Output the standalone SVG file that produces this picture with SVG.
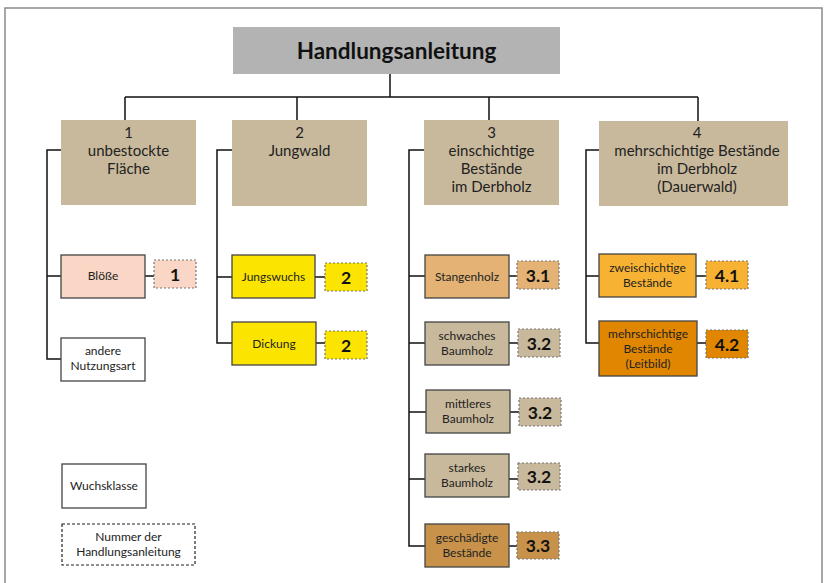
<svg xmlns="http://www.w3.org/2000/svg" width="824" height="583" viewBox="0 0 824 583">
<style>
text{font-family:Lato,"Open Sans","Liberation Sans",sans-serif;fill:#222;text-anchor:middle}
.hd{font-size:15px}
.sm{font-size:12px}
.num{font-size:17.5px;font-weight:bold;fill:#111}
.box{stroke:#444;stroke-width:1.3}
.nb{stroke:#777;stroke-width:1.2;stroke-dasharray:2,2}
.con{stroke:#111;stroke-width:1.5;fill:none}
.tan{fill:#c9b99c}
</style>
<rect x="0" y="0" width="824" height="583" fill="#fff"/>
<rect x="5" y="8" width="817" height="590" fill="none" stroke="#8a8a8a" stroke-width="1.5"/>
<g id="connectors">
<path class="con" d="M390 74V97M125 97H698M125 97V120M297 97V120M489 97V120M698 97V121"/>
<path class="con" d="M61 150H47V359H61M47 276H61M145 276H154"/>
<path class="con" d="M232 150H217V343H232M217 277H232M315 277H325M316 343H325"/>
<path class="con" d="M424 150H409V546H425M409 276H425M409 343H425M409 412H426M409 479H425M509 276H517M509 343H518M510 412H519M509 479H518M509 546H517"/>
<path class="con" d="M599 150H586V343H599M586 276H599M696 276H706M697 343H706"/>
</g>
<g id="title">
<rect x="233" y="27" width="327" height="47" fill="#b3b3b3"/>
<text x="396.5" y="59" style="font-size:22.5px;font-weight:bold;fill:#111">Handlungsanleitung</text>
</g>
<g id="k1">
<rect x="61" y="120" width="135" height="85" class="tan"/>
<text class="hd" x="128.5" y="138">1</text>
<text class="hd" x="128.5" y="156">unbestockte</text>
<text class="hd" x="128.5" y="174">Fläche</text>
</g>
<g id="k2">
<rect x="232" y="120" width="135" height="86" class="tan"/>
<text class="hd" x="299.5" y="138">2</text>
<text class="hd" x="299.5" y="156">Jungwald</text>
</g>
<g id="k3">
<rect x="424" y="120" width="135" height="85" class="tan"/>
<text class="hd" x="491.5" y="138">3</text>
<text class="hd" x="491.5" y="156">einschichtige</text>
<text class="hd" x="491.5" y="174">Bestände</text>
<text class="hd" x="491.5" y="192">im Derbholz</text>
</g>
<g id="k4">
<rect x="599" y="121" width="189" height="85" class="tan"/>
<text class="hd" x="697" y="138">4</text>
<text class="hd" x="697" y="156">mehrschichtige Bestände</text>
<text class="hd" x="697" y="174">im Derbholz</text>
<text class="hd" x="697" y="192">(Dauerwald)</text>
</g>
<g id="bloesse">
<rect x="61" y="255" width="84" height="43" fill="#f9d6c5" class="box"/>
<text class="sm" x="103" y="280">Blöße</text>
<rect x="154" y="260" width="42" height="28" fill="#f9d6c5" class="nb"/>
<text class="num" x="175" y="280.5">1</text>
</g>
<g id="andere">
<rect x="61" y="338" width="84" height="43" fill="#fff" class="box"/>
<text class="sm" x="103" y="355">andere</text>
<text class="sm" x="103" y="370">Nutzungsart</text>
</g>
<g id="jungwuchs">
<rect x="232" y="255" width="83" height="43" fill="#fbe500" class="box"/>
<text class="sm" x="273.5" y="281">Jungswuchs</text>
<rect x="325" y="263" width="42" height="28" fill="#fbe500" class="nb"/>
<text class="num" x="346" y="283.5">2</text>
</g>
<g id="dickung">
<rect x="232" y="322" width="84" height="43" fill="#fbe500" class="box"/>
<text class="sm" x="274" y="348">Dickung</text>
<rect x="325" y="331" width="42" height="28" fill="#fbe500" class="nb"/>
<text class="num" x="346" y="351.5">2</text>
</g>
<g id="stangenholz">
<rect x="425" y="255" width="84" height="43" fill="#e3b274" class="box"/>
<text class="sm" x="467" y="280.5">Stangenholz</text>
<rect x="517" y="261" width="42" height="28" fill="#e3b274" class="nb"/>
<text class="num" x="538" y="281.5">3.1</text>
</g>
<g id="schwaches">
<rect x="425" y="322" width="84" height="43" class="tan box"/>
<text class="sm" x="467" y="340">schwaches</text>
<text class="sm" x="467" y="355">Baumholz</text>
<rect x="518" y="329" width="42" height="28" class="tan nb"/>
<text class="num" x="539" y="349.5">3.2</text>
</g>
<g id="mittleres">
<rect x="426" y="390" width="84" height="43" class="tan box"/>
<text class="sm" x="468" y="408">mittleres</text>
<text class="sm" x="468" y="423">Baumholz</text>
<rect x="519" y="398" width="42" height="28" class="tan nb"/>
<text class="num" x="540" y="418.5">3.2</text>
</g>
<g id="starkes">
<rect x="425" y="454" width="84" height="43" class="tan box"/>
<text class="sm" x="467" y="472">starkes</text>
<text class="sm" x="467" y="487">Baumholz</text>
<rect x="518" y="463" width="42" height="27" class="tan nb"/>
<text class="num" x="539" y="482.5">3.2</text>
</g>
<g id="geschaedigte">
<rect x="425" y="524" width="84" height="43" fill="#c8924b" class="box"/>
<text class="sm" x="467" y="542">geschädigte</text>
<text class="sm" x="467" y="557">Bestände</text>
<rect x="517" y="532" width="42" height="27" fill="#c8924b" class="nb"/>
<text class="num" x="538" y="551.5">3.3</text>
</g>
<g id="zweischichtige">
<rect x="599" y="254" width="97" height="43" fill="#f8b233" class="box"/>
<text class="sm" x="647.5" y="272">zweischichtige</text>
<text class="sm" x="647.5" y="287">Bestände</text>
<rect x="706" y="261" width="42" height="28" fill="#f8b233" class="nb"/>
<text class="num" x="727" y="281.5">4.1</text>
</g>
<g id="mehrschichtige">
<rect x="599" y="321" width="98" height="55" fill="#e08600" class="box"/>
<text class="sm" x="648" y="338">mehrschichtige</text>
<text class="sm" x="648" y="353">Bestände</text>
<text class="sm" x="648" y="368">(Leitbild)</text>
<rect x="706" y="330" width="42" height="28" fill="#e08600" class="nb"/>
<text class="num" x="727" y="350.5">4.2</text>
</g>
<g id="legend-wuchsklasse">
<rect x="62" y="464" width="84" height="44" fill="#fff" class="box"/>
<text class="sm" x="104" y="490">Wuchsklasse</text>
</g>
<g id="legend-nummer">
<rect x="62" y="524" width="133" height="41" fill="#fff" stroke="#222" stroke-width="1.2" stroke-dasharray="3,2"/>
<text class="sm" x="128.5" y="541">Nummer der</text>
<text class="sm" x="128.5" y="556">Handlungsanleitung</text>
</g>
</svg>
